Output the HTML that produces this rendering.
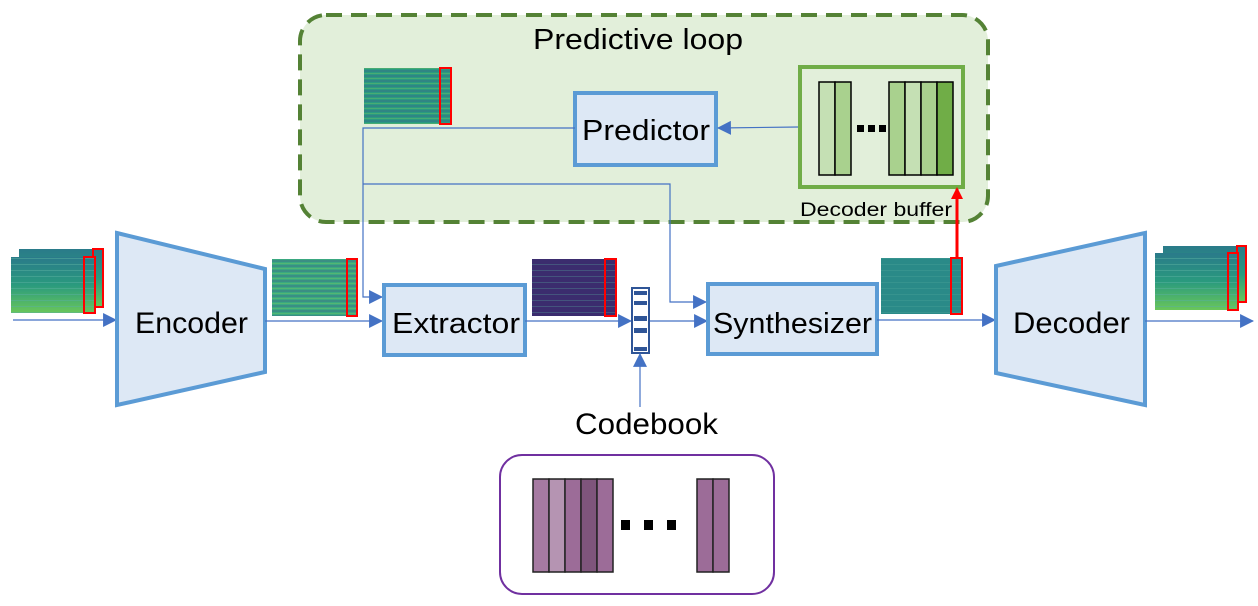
<!DOCTYPE html>
<html><head><meta charset="utf-8"><style>
html,body{margin:0;padding:0;background:#fff;}
svg{display:block;}
text{font-family:"Liberation Sans","DejaVu Sans",sans-serif;fill:#000;}
</style></head><body>
<svg width="1258" height="606" viewBox="0 0 1258 606" xmlns="http://www.w3.org/2000/svg">
<defs>
<marker id="a" markerWidth="14" markerHeight="14" refX="12" refY="6.5" orient="auto" markerUnits="userSpaceOnUse" viewBox="0 0 13 13"><path d="M0,0 L13,6.5 L0,13 z" fill="#4472c4"/></marker>
<marker id="r" markerWidth="12" markerHeight="12" refX="10" refY="6" orient="auto" markerUnits="userSpaceOnUse" viewBox="0 0 12 12"><path d="M0,0 L12,6 L0,12 z" fill="#ff0000"/></marker>
<linearGradient id="g1" x1="0" y1="0" x2="0" y2="1"><stop offset="0" stop-color="#2a7a8a"/><stop offset="0.5" stop-color="#2a9a7e"/><stop offset="1" stop-color="#6ac65a"/></linearGradient>
<pattern id="st" width="6" height="5" patternUnits="userSpaceOnUse"><rect width="6" height="2" fill="#3b5e8c" opacity="0.35"/><rect y="3" width="6" height="1" fill="#8fd45a" opacity="0.3"/></pattern>
<pattern id="st2" width="6" height="6" patternUnits="userSpaceOnUse"><rect width="6" height="1" fill="#5ab0a0" opacity="0.5"/></pattern>
</defs>

<rect x="300" y="15" width="688" height="207" rx="26" fill="#e2efda" stroke="#548235" stroke-width="4" stroke-dasharray="16,9"/>
<text x="533" y="49" font-size="29" textLength="210" lengthAdjust="spacingAndGlyphs">Predictive loop</text>

<rect x="364" y="68" width="86" height="56" fill="#2a9a80"/>
<rect x="364" y="68" width="86" height="56" fill="url(#st)"/>
<rect x="440" y="68" width="11" height="56" fill="none" stroke="#f00" stroke-width="2"/>

<rect x="575" y="93" width="141" height="72" fill="#dde8f5" stroke="#5b9bd5" stroke-width="4"/>
<text x="582" y="140" font-size="29" textLength="128" lengthAdjust="spacingAndGlyphs">Predictor</text>
<line x1="799" y1="127" x2="718" y2="128" stroke="#4472c4" stroke-width="1.2" marker-end="url(#a)"/>

<rect x="800" y="67" width="163" height="120" fill="#e2efda" stroke="#70ad47" stroke-width="4"/>
<g stroke="#000" stroke-width="1.5">
<rect x="819" y="82" width="16" height="93" fill="#c5e0b4"/>
<rect x="835" y="82" width="16" height="93" fill="#a9d18e"/>
<rect x="889" y="82" width="16" height="93" fill="#a9d18e"/>
<rect x="905" y="82" width="16" height="93" fill="#c5e0b4"/>
<rect x="921" y="82" width="16" height="93" fill="#a9d18e"/>
<rect x="937" y="82" width="16" height="93" fill="#70ad47"/>
</g>
<rect x="857" y="125" width="7" height="7" fill="#000"/><rect x="868" y="125" width="7" height="7" fill="#000"/><rect x="879" y="125" width="7" height="7" fill="#000"/>
<text x="800" y="216" font-size="19" textLength="152" lengthAdjust="spacingAndGlyphs">Decoder buffer</text>

<polyline points="575,128 363,128 363,297 382,297" fill="none" stroke="#4472c4" stroke-width="1.2" marker-end="url(#a)"/>
<polyline points="363,184 670,184 670,302 706,302" fill="none" stroke="#4472c4" stroke-width="1.2" marker-end="url(#a)"/>

<rect x="19" y="249" width="84" height="58" fill="url(#g1)"/>
<rect x="93" y="249" width="10" height="58" fill="none" stroke="#f00" stroke-width="2"/>
<rect x="11" y="257" width="84" height="56" fill="url(#g1)"/>
<rect x="11" y="257" width="84" height="56" fill="url(#st2)"/>
<rect x="84" y="257" width="11" height="56" fill="none" stroke="#f00" stroke-width="2"/>
<line x1="13" y1="320" x2="116" y2="320" stroke="#4472c4" stroke-width="1.2" marker-end="url(#a)"/>

<polygon points="117,233 265,269 265,372 117,405" fill="#dde8f5" stroke="#5b9bd5" stroke-width="4"/>
<text x="135" y="333" font-size="30" textLength="113" lengthAdjust="spacingAndGlyphs">Encoder</text>

<rect x="272" y="259" width="85" height="57" fill="#3aa880"/>
<rect x="272" y="259" width="85" height="57" fill="url(#st)"/>
<rect x="347" y="259" width="10" height="57" fill="none" stroke="#f00" stroke-width="2"/>
<line x1="265" y1="321" x2="382" y2="321" stroke="#4472c4" stroke-width="1.2" marker-end="url(#a)"/>

<rect x="384" y="285" width="141" height="70" fill="#dde8f5" stroke="#5b9bd5" stroke-width="4"/>
<text x="392" y="333" font-size="29" textLength="128" lengthAdjust="spacingAndGlyphs">Extractor</text>

<rect x="532" y="259" width="84" height="57" fill="#3b2c6e"/>
<rect x="532" y="259" width="84" height="57" fill="url(#st2)" opacity="0.6"/>
<rect x="605" y="259" width="11" height="57" fill="none" stroke="#f00" stroke-width="2"/>
<line x1="525" y1="321" x2="631" y2="321" stroke="#4472c4" stroke-width="1.2" marker-end="url(#a)"/>

<rect x="632" y="288" width="17" height="65" fill="#fff" stroke="#2f5597" stroke-width="2"/>
<g fill="#2f5597">
<rect x="634" y="291" width="13" height="4"/><rect x="634" y="301" width="13" height="4"/><rect x="634" y="316" width="13" height="5"/><rect x="634" y="328" width="13" height="5"/><rect x="634" y="347" width="13" height="4"/>
</g>
<line x1="640" y1="407" x2="640" y2="354" stroke="#4472c4" stroke-width="1.2" marker-end="url(#a)"/>
<text x="575" y="434" font-size="30" textLength="143" lengthAdjust="spacingAndGlyphs">Codebook</text>
<line x1="650" y1="321" x2="707" y2="321" stroke="#4472c4" stroke-width="1.2" marker-end="url(#a)"/>

<rect x="708" y="284" width="169" height="70" fill="#dde8f5" stroke="#5b9bd5" stroke-width="4"/>
<text x="713" y="333" font-size="29" textLength="159" lengthAdjust="spacingAndGlyphs">Synthesizer</text>

<rect x="881" y="258" width="81" height="56" fill="#2a8a88"/>
<rect x="881" y="258" width="81" height="56" fill="url(#st2)" opacity="0.5"/>
<rect x="951" y="258" width="11" height="56" fill="none" stroke="#f00" stroke-width="2"/>
<line x1="957" y1="258" x2="957" y2="189" stroke="#f00" stroke-width="3" marker-end="url(#r)"/>
<line x1="877" y1="320" x2="995" y2="320" stroke="#4472c4" stroke-width="1.2" marker-end="url(#a)"/>

<polygon points="996,266 1145,233 1145,405 996,373" fill="#dde8f5" stroke="#5b9bd5" stroke-width="4"/>
<text x="1013" y="333" font-size="30" textLength="117" lengthAdjust="spacingAndGlyphs">Decoder</text>

<rect x="1163" y="246" width="83" height="56" fill="url(#g1)"/>
<rect x="1237" y="246" width="9" height="56" fill="none" stroke="#f00" stroke-width="2"/>
<rect x="1155" y="253" width="83" height="57" fill="url(#g1)"/>
<rect x="1155" y="253" width="83" height="57" fill="url(#st2)"/>
<rect x="1228" y="253" width="10" height="57" fill="none" stroke="#f00" stroke-width="2"/>
<line x1="1145" y1="321" x2="1253" y2="321" stroke="#4472c4" stroke-width="1.2" marker-end="url(#a)"/>

<rect x="500" y="455" width="274" height="139" rx="22" fill="#fff" stroke="#7030a0" stroke-width="2"/>
<g stroke="#222" stroke-width="1.5">
<rect x="533" y="479" width="16" height="93" fill="#a67aa2"/>
<rect x="549" y="479" width="16" height="93" fill="#b594b2"/>
<rect x="565" y="479" width="16" height="93" fill="#9c6c98"/>
<rect x="581" y="479" width="16" height="93" fill="#7f557c"/>
<rect x="597" y="479" width="16" height="93" fill="#9c6c98"/>
<rect x="697" y="479" width="16" height="93" fill="#9c6c98"/>
<rect x="713" y="479" width="16" height="93" fill="#9c6c98"/>
</g>
<rect x="621" y="520" width="9" height="10" fill="#000"/><rect x="644" y="520" width="9" height="10" fill="#000"/><rect x="667" y="520" width="9" height="10" fill="#000"/>
</svg>
</body></html>
